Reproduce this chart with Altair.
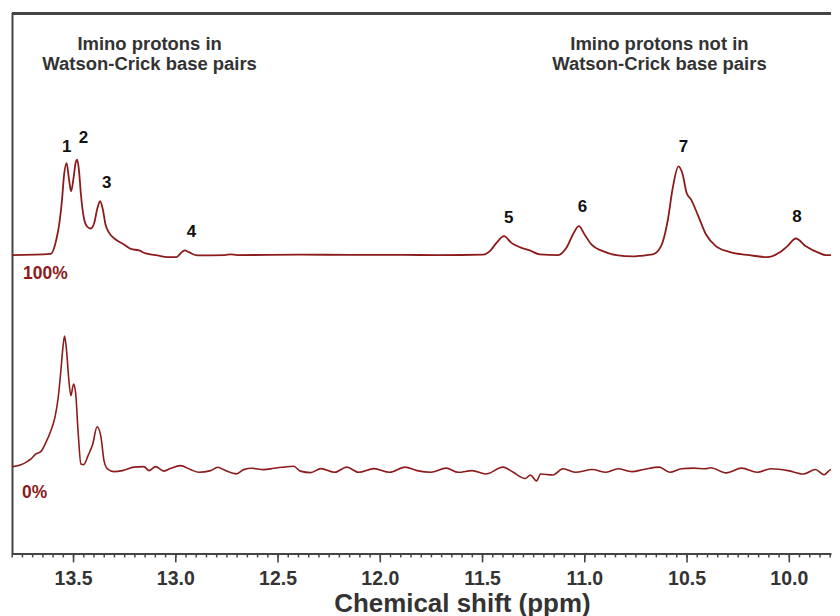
import altair as alt
import pandas as pd

# ---------------- data ----------------
# chemical shift (ppm) and intensity (arbitrary units, relative to baseline)
TOP_PPM = [13.801, 13.611, 13.586, 13.570, 13.557, 13.546, 13.534, 13.523, 13.512, 13.500,
           13.490, 13.482, 13.473, 13.464, 13.451, 13.435, 13.416, 13.399, 13.383, 13.370,
           13.357, 13.344, 13.326, 13.294, 13.253, 13.220, 13.180, 13.147, 13.090, 13.041,
           12.996, 12.977, 12.956, 12.936, 12.895, 12.760, 12.733, 12.700, 12.391, 12.147,
           11.903, 11.708, 11.497, 11.464, 11.432, 11.395, 11.359, 11.318, 11.269, 11.220,
           11.131, 11.090, 11.058, 11.029, 11.001, 10.968, 10.912, 10.846, 10.765, 10.733,
           10.668, 10.627, 10.595, 10.570, 10.542, 10.521, 10.502, 10.480, 10.448, 10.407,
           10.359, 10.294, 10.196, 10.107, 10.050, 10.009, 9.968, 9.919, 9.855, 9.822, 9.757]
TOP_INT = [0, 1.3, 14, 31, 54, 81, 92.3, 77.3, 64, 77.3,
           92.3, 95.7, 84, 61, 39, 29, 26.7, 32.3, 47.3, 54,
           46, 31, 22.3, 15.7, 10.7, 6.3, 4.7, 1.7, -0.3, -2,
           -2, 1.7, 4.7, 3, -0.3, 0, 0.8, 0, 0.5, 0.3,
           0.3, 0, 0.5, 4, 12.3, 19, 12.3, 8, 4.7, 0.7,
           0, 7.3, 20.7, 29, 20.7, 10.7, 4, 0, -1.3, -0.7,
           0.7, 9, 34, 67.3, 89, 80.7, 62.3, 55.7, 40.7, 20.7,
           9, 3.3, 0, -2, 2.3, 9, 16.7, 9, 2.3, 0, 0]

BOT_PPM = [13.797, 13.757, 13.733, 13.708, 13.684, 13.659, 13.635, 13.611, 13.591, 13.575,
           13.562, 13.552, 13.544, 13.534, 13.524, 13.513, 13.500, 13.490, 13.478, 13.464,
           13.451, 13.429, 13.406, 13.385, 13.367, 13.351, 13.334, 13.302, 13.261, 13.204,
           13.156, 13.131, 13.099, 13.058, 13.025, 12.977, 12.928, 12.887, 12.830, 12.795,
           12.757, 12.703, 12.668, 12.627, 12.570, 12.521, 12.480, 12.424, 12.391, 12.341,
           12.290, 12.223, 12.164, 12.106, 12.030, 11.955, 11.879, 11.820, 11.753, 11.678,
           11.619, 11.551, 11.484, 11.400, 11.350, 11.291, 11.266, 11.236, 11.216, 11.157,
           11.106, 11.047, 10.963, 10.896, 10.838, 10.770, 10.711, 10.636, 10.585, 10.527,
           10.468, 10.409, 10.384, 10.308, 10.233, 10.157, 10.090, 10.006, 9.930, 9.872,
           9.830, 9.796, 9.757]
BOT_INT = [2, 4, 6.3, 9.7, 14.7, 17.3, 26.3, 38, 51.3, 71.3,
           98, 121.3, 133, 118, 91.3, 73, 84.7, 76.3, 38, 4.7,
           4, 13, 24.7, 42, 33, 8, -0.3, -3, -2, 1.5,
           2, -2, 2, -2.5, 0.3, 3, -1, -3.7, -2, 1.3,
           -2, -5.3, -1, 0.3, -1, 0.3, 1.3, 2.3, -2.5, -4,
           0, -3.7, 1.5, -3.7, 0, -3.7, 1.5, -2, -3.7, 0.5,
           -3.7, -2, -5.4, 1.5, -3.7, -9.9, -6.4, -12.3, -5.4, -6.4,
           -0.2, -3.7, -0.9, -3.7, -0.2, -3, -0.9, 1.5, -3.7, -0.2,
           0.5, -0.2, 0.8, -4.3, 0.5, -3.7, -0.2, -2, -5.4, -0.9,
           -6.1, -0.9, -2]

TRACE_NAMES = ["100%", "0%"]
TRACE_OFFSETS = [299, 85]          # vertical stacking of the two spectra

PEAK_LABELS = ["1", "2", "3", "4", "5", "6", "7", "8"]
PEAK_LABEL_PPM = [13.534, 13.451, 13.338, 12.924, 11.372, 11.011, 10.518, 9.963]
PEAK_LABEL_INT = [108, 117, 72, 23, 37, 48, 108, 38]

PCT_LABEL_PPM = [13.747, 13.752]
PCT_LABEL_INT = [-19, -24]

ANNOT_TEXT = ["Imino protons in", "Watson-Crick base pairs",
              "Imino protons not in", "Watson-Crick base pairs"]
ANNOT_PPM = [13.128, 13.128, 10.635, 10.635]
ANNOT_Y = [511, 491, 511, 491]

X_DOMAIN = [13.801, 9.796]
Y_DOMAIN = [0, 541]
MAJOR_TICKS = [13.5, 13.0, 12.5, 12.0, 11.5, 11.0, 10.5, 10.0]
MINOR_TICKS = [round(13.8 - 0.05 * i, 2) for i in range(81)]
MAJOR_TICK_LEN = 9
MINOR_TICK_LEN = 4
TICK_LABEL_Y = -32     # baseline of the tick labels, below the axis line

# ---------------- tables ----------------
top_df = pd.DataFrame({"ppm": TOP_PPM, "intensity": TOP_INT,
                       "trace": TRACE_NAMES[0], "offset": TRACE_OFFSETS[0]})
bot_df = pd.DataFrame({"ppm": BOT_PPM, "intensity": BOT_INT,
                       "trace": TRACE_NAMES[1], "offset": TRACE_OFFSETS[1]})
peak_df = pd.DataFrame({"label": PEAK_LABELS, "ppm": PEAK_LABEL_PPM,
                        "y": [v + TRACE_OFFSETS[0] for v in PEAK_LABEL_INT]})
pct_df = pd.DataFrame({"label": TRACE_NAMES, "ppm": PCT_LABEL_PPM,
                       "y": [v + o for v, o in zip(PCT_LABEL_INT, TRACE_OFFSETS)]})
annot_df = pd.DataFrame({"label": ANNOT_TEXT, "ppm": ANNOT_PPM, "y": ANNOT_Y})
minor_df = pd.DataFrame({"ppm": [t for t in MINOR_TICKS if t >= X_DOMAIN[1]],
                         "y0": 0, "y1": -MINOR_TICK_LEN})
major_df = pd.DataFrame({"ppm": MAJOR_TICKS, "y0": 0, "y1": -MAJOR_TICK_LEN,
                         "ly": TICK_LABEL_Y})

FONT = "Liberation Sans"
RED = "#8c1c1c"
GREY = "#333333"
AXIS_GREY = "#444444"

x_scale = alt.Scale(domain=X_DOMAIN, nice=False, zero=False)
y_scale = alt.Scale(domain=Y_DOMAIN, nice=False, zero=False)

x_axis = alt.Axis(
    labels=False, ticks=False, grid=False,
    domainColor=AXIS_GREY, domainWidth=2,
    title="Chemical shift (ppm)", titleFont=FONT, titleFontSize=26, titleFontWeight="bold",
    titleColor=GREY, titleX=451, titleY=58, titleBaseline="alphabetic", titleAlign="center",
)
y_axis = alt.Axis(labels=False, ticks=False, grid=False, title=None,
                  domainColor=AXIS_GREY, domainWidth=2)

top_line = alt.Chart(top_df).transform_calculate(
    yval="datum.intensity + datum.offset"
).mark_line(color=RED, strokeWidth=1.8, interpolate="monotone", clip=True).encode(
    x=alt.X("ppm:Q", scale=x_scale, axis=x_axis),
    y=alt.Y("yval:Q", scale=y_scale, axis=y_axis),
    order="ppm:Q",
)

bot_line = alt.Chart(bot_df).transform_calculate(
    yval="datum.intensity + datum.offset"
).mark_line(color=RED, strokeWidth=1.6, interpolate="monotone", clip=True).encode(
    x="ppm:Q", y="yval:Q", order="ppm:Q",
)

minor = alt.Chart(minor_df).mark_rule(color=AXIS_GREY, strokeWidth=1.5).encode(
    x="ppm:Q", y="y0:Q", y2="y1:Q"
)
major = alt.Chart(major_df).mark_rule(color=AXIS_GREY, strokeWidth=1.6).encode(
    x="ppm:Q", y="y0:Q", y2="y1:Q"
)
tick_labels = alt.Chart(major_df).mark_text(
    font=FONT, fontSize=19.5, fontWeight="bold", color=GREY, baseline="alphabetic", align="center"
).encode(x="ppm:Q", y="ly:Q", text=alt.Text("ppm:Q", format=".1f"))

top_border = alt.Chart(top_df).mark_rule(color=AXIS_GREY, strokeWidth=2).encode(
    y=alt.datum(Y_DOMAIN[1])
)

peaks = alt.Chart(peak_df).mark_text(
    font=FONT, fontSize=17, fontWeight="bold", color="#111111", baseline="middle", align="center"
).encode(x="ppm:Q", y="y:Q", text="label:N")

pcts = alt.Chart(pct_df).mark_text(
    font=FONT, fontSize=17.5, fontWeight="bold", color=RED, baseline="middle", align="left"
).encode(x="ppm:Q", y="y:Q", text="label:N")

annots = alt.Chart(annot_df).mark_text(
    font=FONT, fontSize=18.5, fontWeight="bold", color=GREY, baseline="middle", align="center"
).encode(x="ppm:Q", y="y:Q", text="label:N")

chart = alt.layer(top_line, bot_line, minor, major, tick_labels, top_border,
                  peaks, pcts, annots).properties(
    width=821, height=541,
    padding={"left": 3, "top": 4, "right": 0, "bottom": 0},
    background="white",
).configure_view(stroke=None)

chart.save("out.html", embed_options={"renderer": "svg", "actions": False})
